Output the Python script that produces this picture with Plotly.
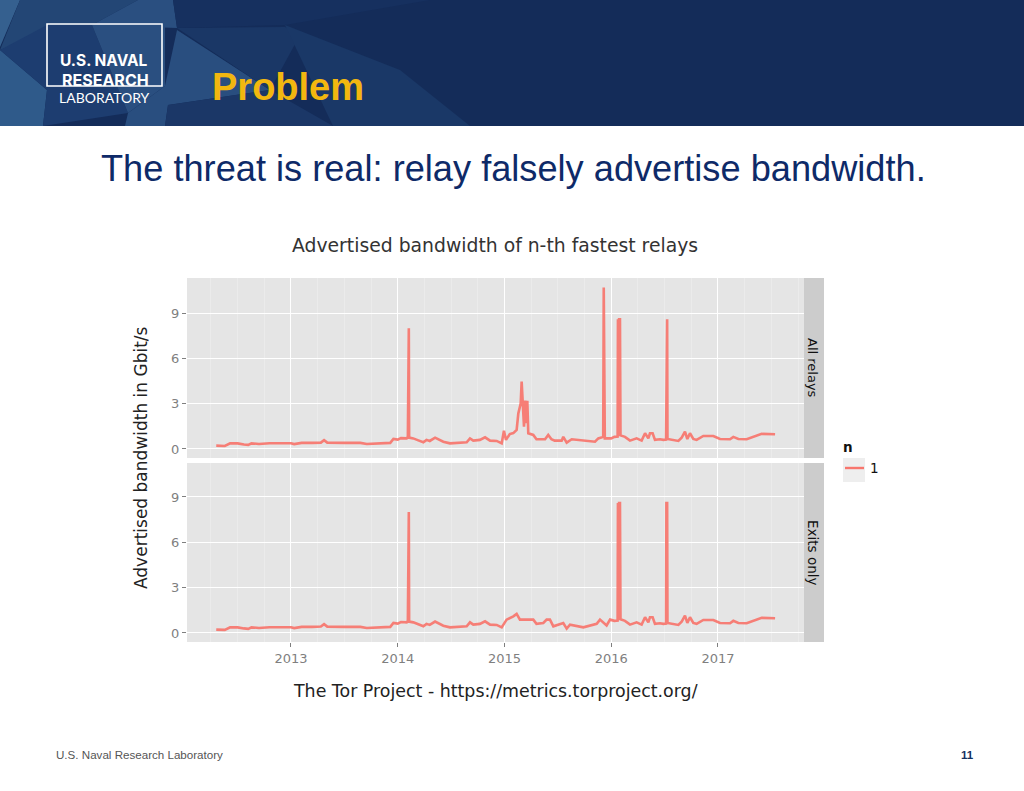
import plotly.graph_objects as go

W, H = 1024, 791

# ---- data (decimal years, Gbit/s) ----
year_ticks = [2013, 2014, 2015, 2016, 2017]
y_ticks = [0, 3, 6, 9]
common_start_x = [2012.30, 2012.35, 2012.38, 2012.43, 2012.50, 2012.56, 2012.60, 2012.63, 2012.70, 2012.80,
                  2012.90, 2013.00, 2013.03, 2013.10, 2013.20, 2013.28, 2013.31, 2013.34, 2013.50, 2013.65,
                  2013.71, 2013.834, 2013.93, 2013.96, 2014.00, 2014.03, 2014.084, 2014.095, 2014.098,
                  2014.104, 2014.107, 2014.146, 2014.193, 2014.24, 2014.27, 2014.30, 2014.35, 2014.427,
                  2014.49, 2014.646, 2014.677, 2014.708, 2014.77, 2014.818, 2014.865, 2014.927, 2014.974]
common_start_y = [0.22, 0.22, 0.20, 0.37, 0.37, 0.30, 0.27, 0.37, 0.33, 0.38,
                  0.37, 0.38, 0.32, 0.40, 0.40, 0.42, 0.58, 0.42, 0.40, 0.40,
                  0.33, 0.37, 0.40, 0.66, 0.62, 0.72, 0.70, 0.80, 8.00,
                  8.00, 0.75, 0.70, 0.57, 0.44, 0.60, 0.53, 0.75, 0.48,
                  0.37, 0.44, 0.70, 0.55, 0.60, 0.77, 0.55, 0.53, 0.37]
bump_x = [2014.995, 2015.014, 2015.05, 2015.083, 2015.114, 2015.13, 2015.152, 2015.161, 2015.173, 2015.183,
          2015.195, 2015.205, 2015.214, 2015.223, 2015.27, 2015.30, 2015.38, 2015.41, 2015.44, 2015.47,
          2015.536, 2015.551, 2015.583, 2015.63, 2015.848, 2015.879, 2015.925, 2015.93, 2015.94, 2015.957,
          2016.00, 2016.03]
bump_y = [1.21, 0.60, 0.99, 1.05, 1.26, 2.36, 3.00, 4.46, 3.10, 1.48,
          3.20, 1.70, 3.20, 1.04, 0.93, 0.64, 0.64, 0.93, 0.64, 0.55,
          0.55, 0.80, 0.42, 0.64, 0.48, 0.70, 0.80, 10.70, 0.70, 0.70,
          0.70, 0.80]
exit_mid_x = [2015.02, 2015.083, 2015.114, 2015.145, 2015.27, 2015.30, 2015.364, 2015.395, 2015.426, 2015.458,
              2015.505, 2015.551, 2015.583, 2015.614, 2015.739, 2015.864, 2015.895, 2015.957, 2015.989, 2016.03]
exit_mid_y = [0.88, 1.10, 1.26, 0.88, 0.88, 0.60, 0.66, 0.88, 0.88, 0.44,
              0.55, 0.66, 0.29, 0.55, 0.37, 0.60, 0.88, 0.50, 0.88, 0.80]
common_end_x = [2016.06, 2016.063, 2016.07, 2016.074, 2016.082, 2016.087, 2016.129, 2016.176, 2016.238, 2016.285,
                2016.317, 2016.348, 2016.363, 2016.388, 2016.41, 2016.457, 2016.488, 2016.514, 2016.517, 2016.524,
                2016.527, 2016.566, 2016.629, 2016.66, 2016.691, 2016.713, 2016.738, 2016.769, 2016.80, 2016.863,
                2016.957, 2017.019, 2017.113, 2017.144, 2017.191, 2017.269, 2017.363, 2017.41, 2017.535]
common_end_y = [0.82, 8.60, 0.85, 8.60, 8.60, 0.90, 0.80, 0.55, 0.70, 0.55,
                1.04, 0.70, 1.04, 1.04, 0.60, 0.64, 0.60, 0.62, 8.60, 8.60,
                0.66, 0.60, 0.53, 0.75, 1.15, 0.66, 1.04, 0.66, 0.60, 0.86,
                0.86, 0.66, 0.64, 0.80, 0.66, 0.64, 0.86, 1.00, 0.97]
panel_names = ["All relays", "Exits only"]
legend_title = "n"
legend_label = "1"
chart_title = "Advertised bandwidth of n-th fastest relays"
y_title = "Advertised bandwidth in Gbit/s"
caption = "The Tor Project - https://metrics.torproject.org/"
slide_title = "Problem"
slide_subtitle = "The threat is real: relay falsely advertise bandwidth."
footer_left = "U.S. Naval Research Laboratory"
footer_right = "11"

all_x = common_start_x + bump_x + common_end_x
all_y = common_start_y + bump_y + common_end_y
exit_x = common_start_x + exit_mid_x + common_end_x
exit_y = common_start_y + exit_mid_y + common_end_y

# ---- layout helpers ----
def fx(px): return px / W
def fy(py): return 1 - py / H

def poly(points, color):
    path = "M" + " L".join(f"{fx(a):.5f},{fy(b):.5f}" for a, b in points) + " Z"
    return dict(type="path", path=path, xref="paper", yref="paper",
                fillcolor=color, line=dict(width=0), layer="below")

def box(x0, y0, x1, y1, color, line=None, layer="below"):
    return dict(type="rect", xref="paper", yref="paper", x0=fx(x0), x1=fx(x1), y0=fy(y1), y1=fy(y0),
                fillcolor=color, line=line or dict(width=0), layer=layer)

def label(text, x, y, size, color, family="DejaVu Sans", anchor="center", angle=0):
    return dict(text=text, xref="paper", yref="paper", x=fx(x), y=fy(y), showarrow=False,
                xanchor=anchor, yanchor="middle", textangle=angle,
                font=dict(size=size, color=color, family=family))

NAVY = "#142c59"
shapes = [
    box(0, 0, 1024, 126, NAVY),
    poly([(0, 0), (20, 0), (0, 47)], "#35608f"),
    poly([(20, 0), (138, 0), (92, 25), (47, 33), (0, 50)], "#234675"),
    poly([(138, 0), (173, 0), (177, 28), (92, 25)], "#2a4f80"),
    poly([(0, 50), (47, 90), (43, 126), (0, 126)], "#2f5a8a"),
    poly([(0, 50), (47, 25), (92, 25), (128, 113), (43, 126), (47, 90)], "#1d3d70"),
    poly([(92, 25), (165, 25), (165, 86), (128, 113)], "#2a4f80"),
    poly([(128, 113), (165, 86), (177, 30), (270, 90), (168, 105), (165, 126), (125, 126)], "#294e7f"),
    poly([(177, 28), (285, 27), (300, 35), (270, 90)], "#1a3766"),
    poly([(173, 0), (430, 0), (285, 25), (177, 28)], "#16305f"),
    poly([(285, 25), (400, 70), (470, 126), (333, 126)], "#1a3867"),
    poly([(168, 105), (270, 90), (333, 126), (165, 126)], "#1b3767"),
    box(47, 24, 162, 86, "rgba(0,0,0,0)", line=dict(color="white", width=1.6), layer="below"),
    box(187, 278, 804, 458, "#e5e5e5"),
    box(187, 463, 804, 642, "#e5e5e5"),
    box(804, 278, 824, 458, "#cccccc"),
    box(804, 463, 824, 642, "#cccccc"),
    box(843, 458, 865, 482, "#eeeeee"),
    dict(type="line", xref="paper", yref="paper", x0=fx(845), x1=fx(864), y0=fy(468), y1=fy(468),
         line=dict(color="#F8766D", width=2.4)),
]

annotations = [
    label("<b>U.S. NAVAL</b>", 104, 60.8, 15.5, "white", "Inter"),
    label("<b>RESEARCH</b>", 105, 80, 16, "white", "Inter"),
    label("LABORATORY", 104, 98, 14, "white", "Lato"),
    label(f"<b>{slide_title}</b>", 210, 87, 38, "#f2b70f", "Liberation Sans", "left"),
    label(slide_subtitle, 513.5, 168, 36.2, "#0e2a68", "Liberation Sans"),
    label(chart_title, 495, 245, 18.8, "#333333"),
    label(y_title, 141, 458, 17, "#222222", angle=-90),
    label(caption, 495.5, 691, 17.4, "#222222"),
    label(panel_names[0], 813, 368, 13, "#111111", angle=90),
    label(panel_names[1], 813, 552, 13.5, "#111111", angle=90),
    label(f"<b>{legend_title}</b>", 848, 447, 13.5, "#111111"),
    label(legend_label, 874, 468, 13.5, "#111111"),
    label(footer_left, 54, 754.5, 11.6, "#555555", "Liberation Sans", "left"),
    label(f"<b>{footer_right}</b>", 967.5, 754.5, 11.5, "#14305f", "Liberation Sans"),
]

fig = go.Figure()
LINE = dict(color="#F8766D", width=2.6)
fig.add_trace(go.Scatter(x=all_x, y=all_y, mode="lines", line=LINE, name=legend_label, opacity=0.92,
                         xaxis="x", yaxis="y", showlegend=False))
fig.add_trace(go.Scatter(x=exit_x, y=exit_y, mode="lines", line=LINE, name=legend_label, opacity=0.92,
                         xaxis="x2", yaxis="y2", showlegend=False))

XR = [2012.026, 2017.806]
YR1 = [-0.6, 11.33]
YR2 = [-0.6, 11.25]
common_x = dict(range=XR, tickmode="array", tickvals=year_ticks, gridcolor="white", gridwidth=1.4,
                zeroline=False, showline=False, ticks="outside", ticklen=4, tickcolor="#7f7f7f", tickwidth=1,
                tickfont=dict(size=13, color="#7f7f7f", family="DejaVu Sans"),
                minor=dict(dtick=0.25, showgrid=True, gridcolor="#ebebeb", gridwidth=0.6))
common_y = dict(tickmode="array", tickvals=y_ticks, gridcolor="white", gridwidth=1.4, zeroline=False,
                showline=False, ticks="outside", ticklen=4, tickcolor="#7f7f7f", tickwidth=1,
                tickfont=dict(size=13, color="#7f7f7f", family="DejaVu Sans"))

fig.update_layout(
    width=W, height=H, margin=dict(l=0, r=0, t=0, b=0),
    paper_bgcolor="white", plot_bgcolor="rgba(0,0,0,0)", showlegend=False,
    shapes=shapes, annotations=annotations,
    xaxis=dict(domain=[fx(187), fx(804)], anchor="y", showticklabels=False, ticklen=0,
               **{k: v for k, v in common_x.items() if k != "ticklen"}),
    yaxis=dict(domain=[fy(458), fy(278)], anchor="x", range=YR1, **common_y),
    xaxis2=dict(domain=[fx(187), fx(804)], anchor="y2", **common_x),
    yaxis2=dict(domain=[fy(642), fy(463)], anchor="x2", range=YR2, **common_y),
)

fig.write_html("out.html", config={"displayModeBar": False},
               post_script="document.body.style.margin='0';document.documentElement.style.overflow='hidden';")
